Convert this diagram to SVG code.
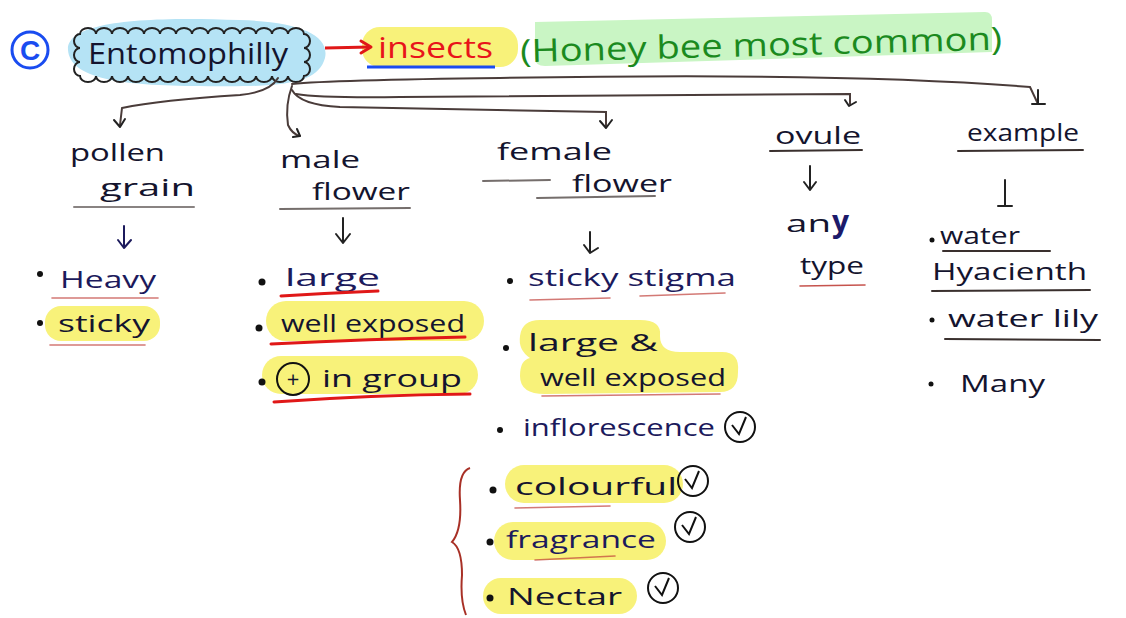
<svg xmlns="http://www.w3.org/2000/svg" width="1126" height="618" viewBox="0 0 1126 618">
<style>
.t{font-family:"Open Sans","Liberation Sans",sans-serif;font-size:24px;fill:#14142e}
.n{fill:#1c1a5c}
.hl{fill:#f8f27a}
.ln{fill:none;stroke:#4a3c3a;stroke-width:2;stroke-linecap:round}
.ul{fill:none;stroke:#3a302e;stroke-width:2;stroke-linecap:round}
.ru{fill:none;stroke:#c0403a;stroke-width:1.6;opacity:.7;stroke-linecap:round}
.rd{fill:none;stroke:#e01818;stroke-width:3;stroke-linecap:round}
.ar{fill:none;stroke:#222;stroke-width:2;stroke-linecap:round;stroke-linejoin:round}
.ck{fill:none;stroke:#111;stroke-width:2}
.b{fill:#111}
</style>
<rect width="1126" height="618" fill="#fff"/>

<g id="title">
<circle cx="30" cy="50" r="18" fill="none" stroke="#1a4cf0" stroke-width="3"/>
<text x="30" y="60" text-anchor="middle" style="font-family:'Liberation Sans',sans-serif;font-size:28px;font-weight:bold;fill:#1a4cf0">C</text>
<path d="M68,50 C66,22 140,16 240,20 C300,22 330,35 325,58 C318,82 290,88 200,86 C120,86 70,78 68,50Z" fill="#b5e3f5"/>
<path d="M80,34 a8,6 0 0 1 16,0 a8,6 0 0 1 16,0 a8,6 0 0 1 16,0 a8,6 0 0 1 16,0 a8,6 0 0 1 16,0 a8,6 0 0 1 16,0 a8,6 0 0 1 16,0 a8,6 0 0 1 16,0 a8,6 0 0 1 16,0 a8,6 0 0 1 16,0 a8,6 0 0 1 16,0 a8,6 0 0 1 16,0 a8,6 0 0 1 16,0 a8,6 0 0 1 16,0 a6,7 0 0 1 0,14 a6,7 0 0 1 0,14 a6,7 0 0 1 0,14 a8,6 0 0 1 -16,0 a8,6 0 0 1 -16,0 a8,6 0 0 1 -16,0 a8,6 0 0 1 -16,0 a8,6 0 0 1 -16,0 a8,6 0 0 1 -16,0 a8,6 0 0 1 -16,0 a8,6 0 0 1 -16,0 a8,6 0 0 1 -16,0 a8,6 0 0 1 -16,0 a8,6 0 0 1 -16,0 a8,6 0 0 1 -16,0 a8,6 0 0 1 -16,0 a8,6 0 0 1 -16,0 a6,7 0 0 1 0,-14 a6,7 0 0 1 0,-14 a6,7 0 0 1 0,-14Z" fill="none" stroke="#222" stroke-width="2"/>
<text class="t" x="88" y="64" textLength="200" lengthAdjust="spacingAndGlyphs" style="font-size:30px">Entomophilly</text>
</g>

<g id="insects">
<rect x="362" y="27" width="156" height="40" rx="18" class="hl"/>
<path d="M325,48 L370,47" stroke="#e01818" stroke-width="3" fill="none"/>
<path d="M361,41 L371,47 L361,53" stroke="#e01818" stroke-width="3" fill="none" stroke-linejoin="round" stroke-linecap="round"/>
<text x="378" y="58" textLength="115" lengthAdjust="spacingAndGlyphs" style="font-family:'Open Sans','Liberation Sans',sans-serif;font-size:30px;fill:#e8141a">insects</text>
<path d="M367,67 L495,67" stroke="#1a4cf0" stroke-width="3"/>
</g>

<g id="honeybee">
<path d="M535,22 L985,12 Q992,12 992,20 L992,52 L545,66 Q535,66 535,58Z" fill="#c9f5c4"/>
<text x="520" y="56" transform="rotate(-1.5 760 40)" textLength="482" lengthAdjust="spacingAndGlyphs" style="font-family:'Open Sans','Liberation Sans',sans-serif;font-size:32px;fill:#1b8a1e">(Honey bee most common)</text>
</g>

<g id="connectors">
<path class="ln" d="M278,78 Q270,92 240,95 Q160,100 122,108 L120,125"/>
<path class="ar" d="M114,120 L120,127 L125,119"/>
<path class="ln" d="M292,86 Q285,105 288,125 Q292,134 300,136"/>
<path class="ar" d="M293,137 L300,136 L297,129"/>
<path class="ln" d="M292,90 Q300,105 340,107 L606,112 L606,126"/>
<path class="ar" d="M600,121 L606,128 L612,120"/>
<path class="ln" d="M296,94 Q320,98 400,97 L850,94 L850,104"/>
<path class="ar" d="M845,100 L849,106 L856,102"/>
<path class="ln" d="M292,84 Q330,80 500,78 Q850,72 1030,87 L1038,104"/>
<path class="ar" d="M1032,104 L1045,104 M1038,90 L1038,104"/>
</g>

<g id="pollen">
<text class="t" x="70" y="161" textLength="95" lengthAdjust="spacingAndGlyphs">pollen</text>
<text class="t" x="100" y="196" textLength="95" lengthAdjust="spacingAndGlyphs">grain</text>
<path class="ul" d="M74,207 L194,207" opacity=".6"/>
<path class="ar" d="M124,226 L124,248 M118,240 L124,248 L131,240" style="stroke:#1c1a5c"/>
<circle class="b" cx="40" cy="274" r="3"/>
<text class="t n" x="60" y="288" textLength="96" lengthAdjust="spacingAndGlyphs">Heavy</text>
<path class="ru" d="M52,298 L158,298"/>
<rect x="45" y="306" width="115" height="35" rx="16" class="hl"/>
<circle class="b" cx="40" cy="323" r="3"/>
<text class="t" x="58" y="332" textLength="92" lengthAdjust="spacingAndGlyphs">sticky</text>
<path class="ru" d="M50,345 L145,345"/>
</g>

<g id="male">
<text class="t" x="280" y="168" textLength="80" lengthAdjust="spacingAndGlyphs">male</text>
<text class="t" x="312" y="200" textLength="98" lengthAdjust="spacingAndGlyphs">flower</text>
<path class="ul" d="M280,209 L410,208" opacity=".7"/>
<path class="ar" d="M343,218 L343,243 M336,234 L343,243 L350,234"/>
<circle class="b" cx="262" cy="282" r="3.5"/>
<text class="t n" x="285" y="286" textLength="95" lengthAdjust="spacingAndGlyphs">large</text>
<path class="rd" d="M281,296 Q330,293 378,291"/>
<rect x="266" y="301" width="218" height="40" rx="20" class="hl"/>
<circle class="b" cx="259" cy="328" r="3.5"/>
<text class="t" x="281" y="332" textLength="184" lengthAdjust="spacingAndGlyphs">well exposed</text>
<path class="rd" d="M271,344 Q370,339 465,337"/>
<rect x="262" y="356" width="216" height="38" rx="19" class="hl"/>
<circle class="b" cx="262" cy="382" r="3.5"/>
<circle cx="293" cy="379" r="16" fill="none" stroke="#111" stroke-width="2"/>
<text class="t" x="293" y="387" text-anchor="middle" style="font-size:22px">+</text>
<text class="t" x="322" y="387" textLength="140" lengthAdjust="spacingAndGlyphs">in group</text>
<path class="rd" d="M274,402 Q370,395 470,394"/>
</g>

<g id="female">
<text class="t" x="497" y="160" textLength="115" lengthAdjust="spacingAndGlyphs">female</text>
<path class="ul" d="M483,181 L550,180" opacity=".7"/>
<text class="t" x="572" y="192" textLength="100" lengthAdjust="spacingAndGlyphs">flower</text>
<path class="ul" d="M537,198 L655,196" opacity=".7"/>
<path class="ar" d="M590,232 L590,253 M584,245 L590,253 M590,253 L598,248"/>
<circle class="b" cx="510" cy="281" r="3"/>
<text class="t n" x="528" y="286" textLength="208" lengthAdjust="spacingAndGlyphs">sticky stigma</text>
<path class="ru" d="M530,300 L610,298 M640,296 L725,293"/>
<path d="M540,320 L640,320 Q662,320 660,336 Q660,352 680,352 L722,352 Q740,352 738,372 Q738,392 720,392 L545,394 Q520,394 520,376 Q520,360 530,358 Q518,350 520,336 Q522,320 540,320Z" class="hl"/>
<circle class="b" cx="506" cy="348" r="3"/>
<text class="t" x="528" y="351" textLength="130" lengthAdjust="spacingAndGlyphs">large &amp;</text>
<text class="t" x="540" y="386" textLength="186" lengthAdjust="spacingAndGlyphs">well exposed</text>
<path class="ru" d="M542,396 L720,394"/>
<circle class="b" cx="500" cy="430" r="3"/>
<text class="t n" x="523" y="436" textLength="192" lengthAdjust="spacingAndGlyphs">inflorescence</text>
<circle class="ck" cx="740" cy="427" r="15"/>
<path class="ck" d="M732,425 L739,434 L746,417"/>
<path d="M470,468 Q458,472 460,500 Q462,530 452,542 Q462,548 462,575 Q460,600 466,615" fill="none" stroke="#a83026" stroke-width="2"/>
<rect x="505" y="465" width="178" height="38" rx="19" class="hl"/>
<circle class="b" cx="493" cy="490" r="3.5"/>
<text class="t" x="515" y="495" textLength="162" lengthAdjust="spacingAndGlyphs">colourful</text>
<path class="ru" d="M515,508 L610,506"/>
<circle class="ck" cx="693" cy="481" r="15"/>
<path class="ck" d="M685,479 L692,488 L699,471"/>
<rect x="494" y="522" width="172" height="38" rx="19" class="hl"/>
<circle class="b" cx="490" cy="542" r="3.5"/>
<text class="t n" x="506" y="548" textLength="150" lengthAdjust="spacingAndGlyphs">fragrance</text>
<path class="ru" d="M535,560 L615,556"/>
<circle class="ck" cx="690" cy="527" r="15"/>
<path class="ck" d="M682,525 L689,534 L696,517"/>
<rect x="483" y="578" width="154" height="36" rx="18" class="hl"/>
<circle class="b" cx="490" cy="598" r="3.5"/>
<text class="t" x="507" y="605" textLength="115" lengthAdjust="spacingAndGlyphs">Nectar</text>
<circle class="ck" cx="663" cy="588" r="15"/>
<path class="ck" d="M655,586 L662,595 L669,578"/>
</g>

<g id="ovule">
<text class="t" x="775" y="144" textLength="86" lengthAdjust="spacingAndGlyphs">ovule</text>
<path class="ul" d="M770,151 L862,150"/>
<path class="ar" d="M810,166 L810,190 M804,182 L810,190 L816,182"/>
<text class="t" x="786" y="232" textLength="45" lengthAdjust="spacingAndGlyphs">an</text>
<text class="t" x="832" y="232" style="fill:#1c1a6a;font-weight:bold;font-size:30px">y</text>
<text class="t" x="800" y="274" textLength="64" lengthAdjust="spacingAndGlyphs">type</text>
<path class="ru" d="M800,286 L865,285" style="opacity:.9"/>
</g>

<g id="example">
<text class="t" x="967" y="141" textLength="112" lengthAdjust="spacingAndGlyphs">example</text>
<path class="ul" d="M958,151 L1083,150"/>
<path class="ar" d="M1005,180 L1005,206 M998,206 L1012,206"/>
<circle class="b" cx="932" cy="240" r="2.5"/>
<text class="t" x="940" y="244" textLength="80" lengthAdjust="spacingAndGlyphs">water</text>
<path class="ul" d="M943,251 L1050,251"/>
<text class="t" x="932" y="280" textLength="155" lengthAdjust="spacingAndGlyphs">Hyacienth</text>
<path class="ul" d="M932,291 L1090,290"/>
<circle class="b" cx="932" cy="320" r="2.5"/>
<text class="t" x="948" y="327" textLength="150" lengthAdjust="spacingAndGlyphs">water lily</text>
<path class="ul" d="M945,339 L1100,340"/>
<circle class="b" cx="931" cy="384" r="2.5"/>
<text class="t" x="960" y="392" textLength="85" lengthAdjust="spacingAndGlyphs">Many</text>
</g>
</svg>
